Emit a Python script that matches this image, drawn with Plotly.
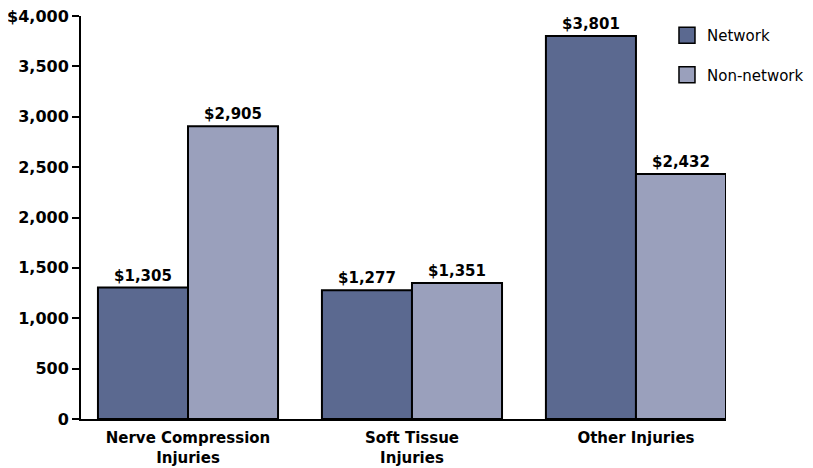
import plotly.graph_objects as go

categories = ["Nerve Compression<br>Injuries", "Soft Tissue<br>Injuries", "Other Injuries"]
network = [1305, 1277, 3801]
non_network = [2905, 1351, 2432]
series_names = ["Network", "Non-network"]
colors = ["#5b6990", "#9aa0bc"]
y_ticks = [0, 500, 1000, 1500, 2000, 2500, 3000, 3500, 4000]
y_tick_labels = ["0", "500", "1,000", "1,500", "2,000", "2,500", "3,000", "3,500", "$4,000"]

FONT = "DejaVu Sans"
fig = go.Figure()
for name, vals, col in zip(series_names, [network, non_network], colors):
    fig.add_trace(go.Bar(
        x=list(range(len(categories))), y=vals, name=name, showlegend=False,
        marker=dict(color=col, line=dict(color="black", width=2)),
        text=[f"${v:,}" for v in vals], textposition="outside",
        textfont=dict(family=FONT, size=15, color="black", weight="bold"),
        cliponaxis=False,
    ))
    fig.add_trace(go.Scatter(
        x=[None], y=[None], mode="markers", name=name, legendgroup=name,
        marker=dict(symbol="square", size=19, color=col, line=dict(color="black", width=1.5)),
    ))

fig.update_layout(
    width=805, height=460,
    margin=dict(l=73, r=87, t=8, b=49, autoexpand=False),
    plot_bgcolor="white", paper_bgcolor="white",
    barmode="group", bargap=0.196, bargroupgap=0,
    font=dict(family=FONT, color="black"),
    legend=dict(x=0.9085, y=0.9926, xanchor="left", yanchor="top",
                font=dict(family=FONT, size=15, color="black"),
                tracegroupgap=17, bgcolor="rgba(0,0,0,0)", itemsizing="trace"),
    xaxis=dict(range=[-0.4777, 2.402], tickvals=list(range(len(categories))), ticktext=categories,
               showline=True, linecolor="black", linewidth=2, ticks="", showgrid=False,
               automargin=False, ticklabelstandoff=4, ticklabeloverflow="allow",
               tickfont=dict(family=FONT, size=15, color="black", weight="bold")),
    yaxis=dict(range=[0, 4000], tickvals=y_ticks, ticktext=y_tick_labels,
               showline=True, linecolor="black", linewidth=2, ticks="outside", ticklen=7,
               tickwidth=2, tickcolor="black", showgrid=False, zeroline=False,
               automargin=False, ticklabeloverflow="allow",
               tickfont=dict(family=FONT, size=16, color="black", weight="bold")),
)
fig.write_html("out.html")
